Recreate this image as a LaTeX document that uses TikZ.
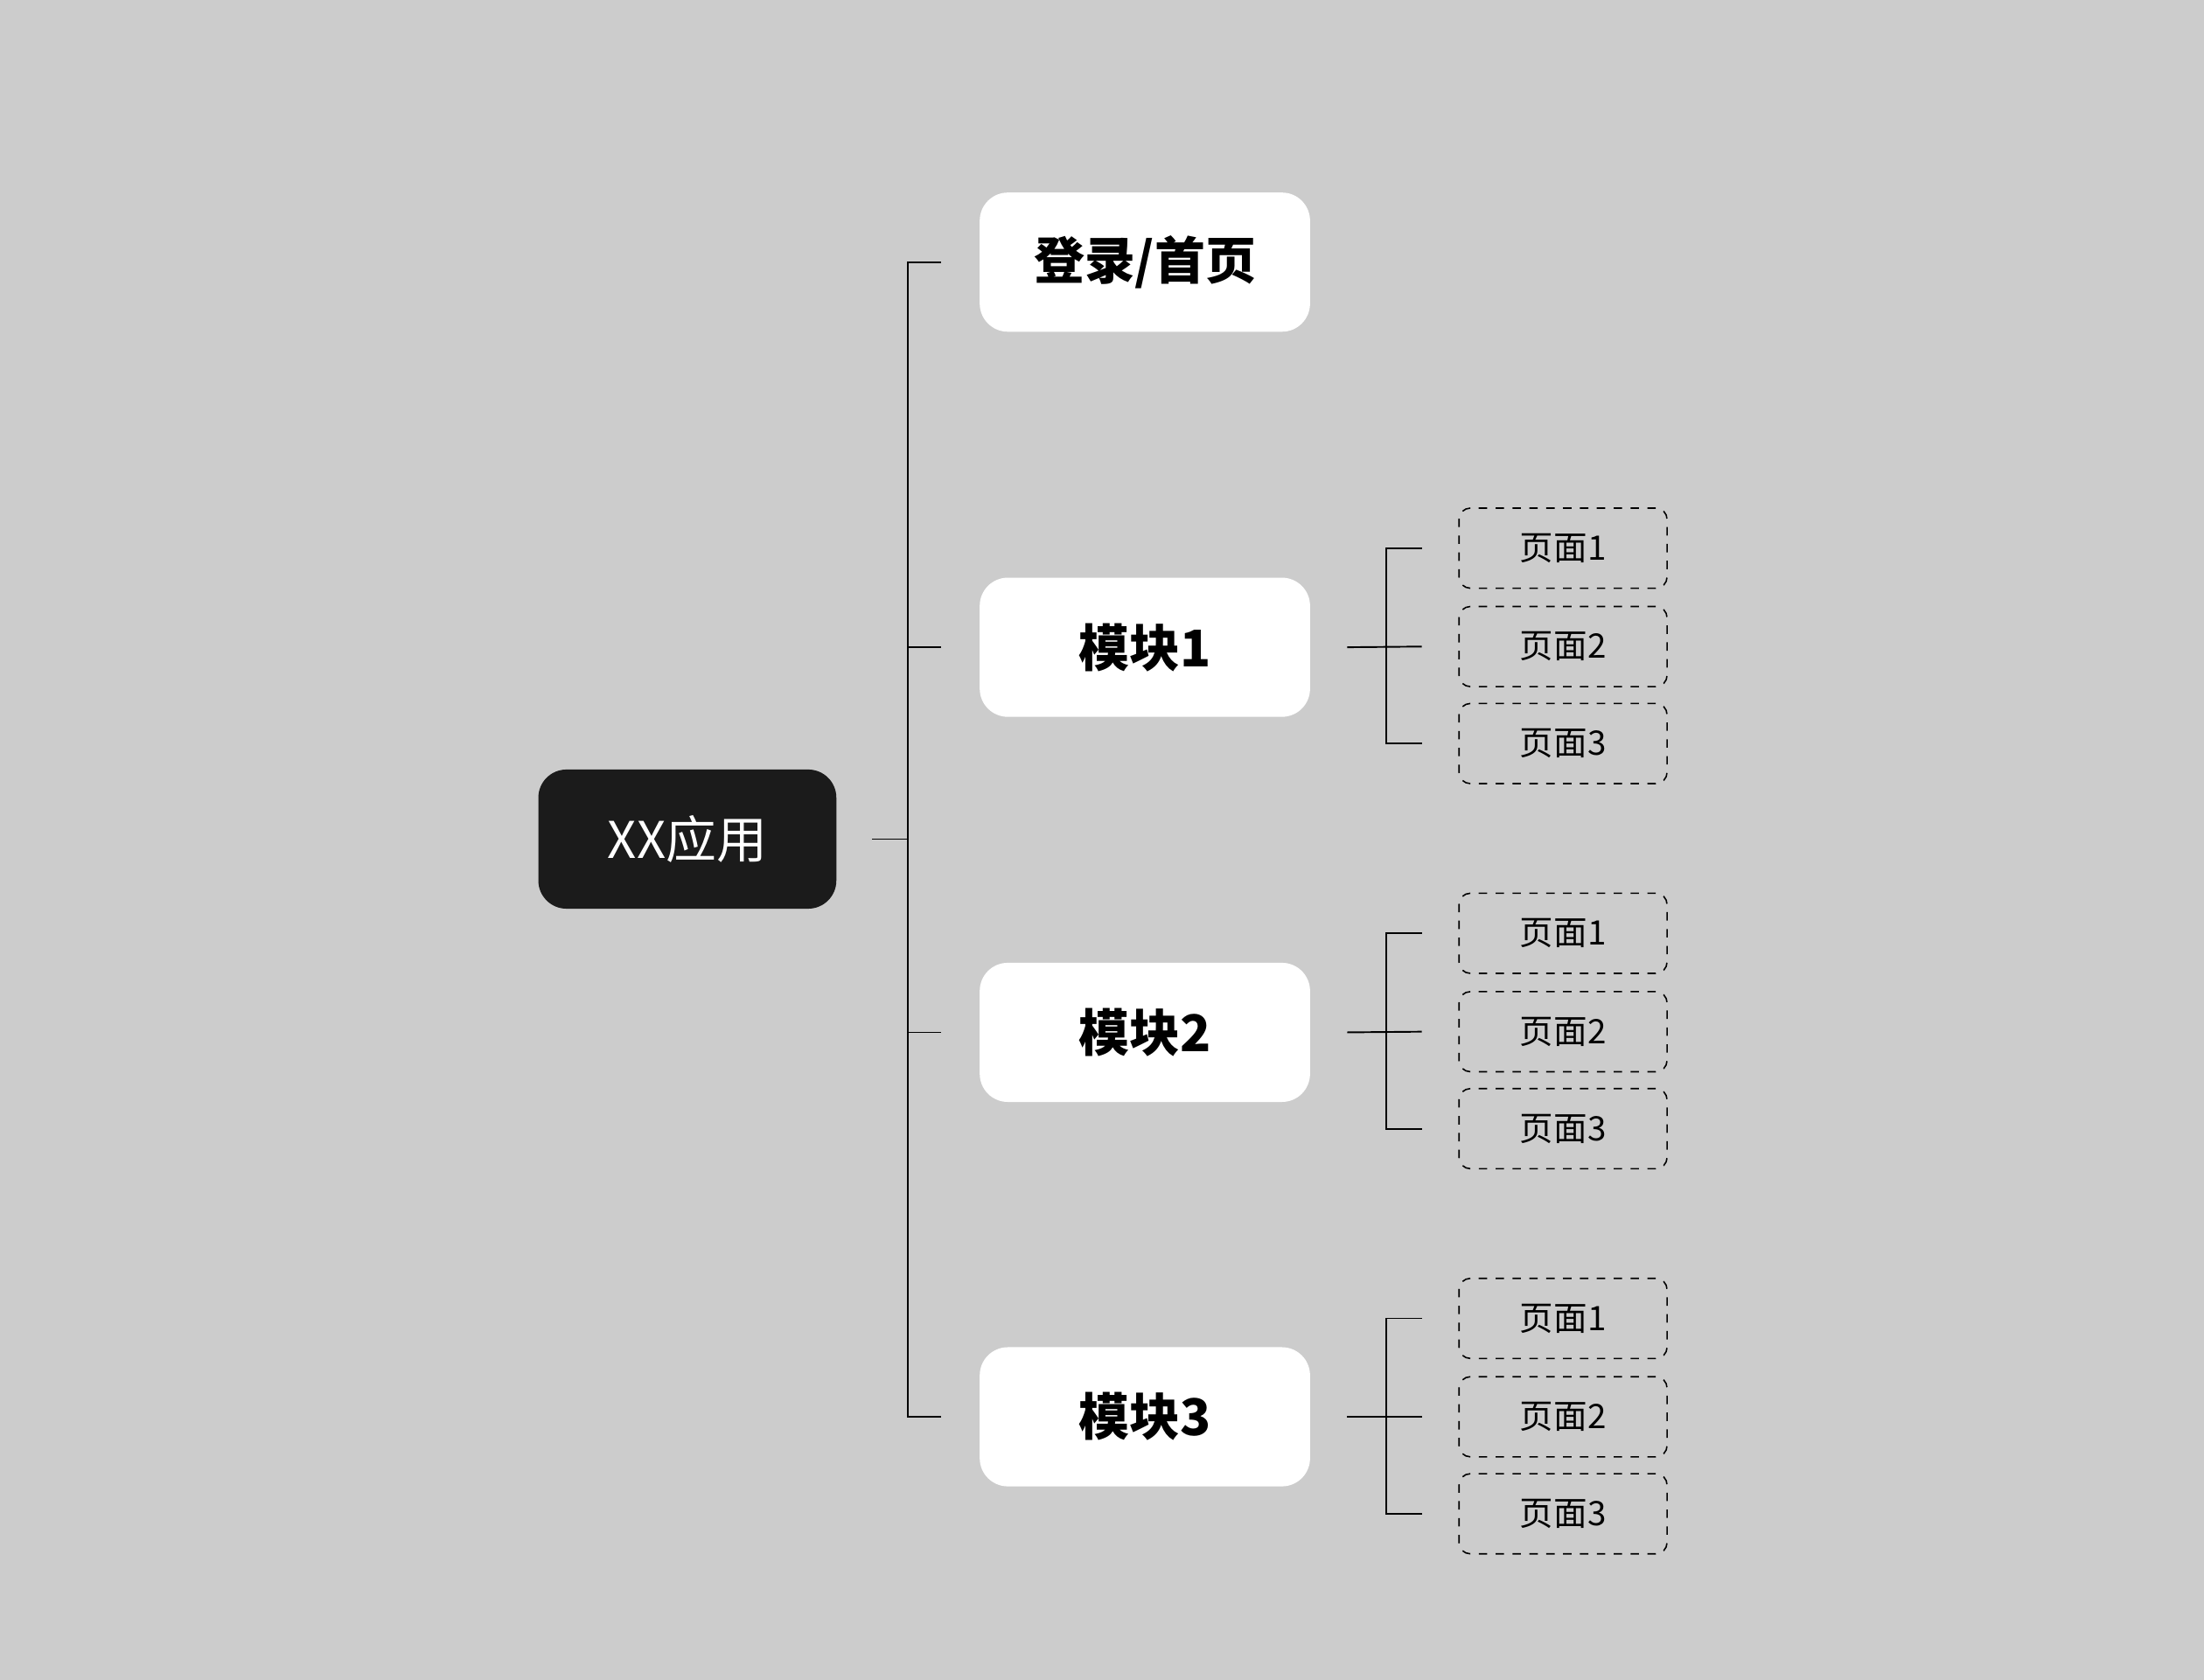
\documentclass[tikz,border=0pt]{standalone}
\usepackage{fontspec}
\setmainfont{Noto Sans CJK SC}
\definecolor{bgc}{RGB}{204,204,204}
\definecolor{rootc}{RGB}{27,27,27}
\begin{document}
\begin{tikzpicture}[x=0.5pt,y=-0.5pt,
  root/.style={fill=rootc,text=white,rounded corners=10pt,minimum width=106pt,minimum height=49.5pt,font=\fontsize{18}{20}\selectfont,inner sep=0pt},
  mod/.style={fill=white,rounded corners=10pt,minimum width=117.5pt,minimum height=49.5pt,font=\bfseries\fontsize{18}{20}\selectfont,inner sep=0pt},
  page/.style={draw=black,dashed,line width=0.5pt,rounded corners=4pt,minimum width=74pt,minimum height=28.5pt,font=\fontsize{12}{14}\selectfont,inner sep=0pt},
  con/.style={line width=0.6pt,black}]
\fill[bgc] (0,0) rectangle (1568,1195);
\useasboundingbox (0,0) rectangle (1568,1195);
\node[root] (r) at (489,597) {XX应用};
\node[mod] (m0) at (814.5,186.5) {登录/首页};
\node[mod] (m1) at (814.5,460.5) {模块1};
\node[mod] (m2) at (814.5,734.5) {模块2};
\node[mod] (m3) at (814.5,1008) {模块3};
\coordinate (t) at (646,597);
\draw[con] ([xshift=12.5pt]r.east) -- (t);
\draw[con] (t) |- ([xshift=-13.5pt]m0.west);
\draw[con] (t) |- ([xshift=-13.5pt]m1.west);
\draw[con] (t) |- ([xshift=-13.5pt]m2.west);
\draw[con] (t) |- ([xshift=-13.5pt]m3.west);
\foreach \i/\y in {1/460,2/734,3/1008}{
  \node[page] (p\i a) at (1112,\y-70) {页面1};
  \node[page] (p\i b) at (1112,\y) {页面2};
  \node[page] (p\i c) at (1112,\y+69) {页面3};
  \coordinate (s\i) at (986,\y);
  \draw[con] ([xshift=13pt]m\i.east) -- ([xshift=-13pt]p\i b.west);
  \draw[con] (s\i) |- ([xshift=-13pt]p\i a.west);
  \draw[con] (s\i) |- ([xshift=-13pt]p\i c.west);
}
\end{tikzpicture}
\end{document}
